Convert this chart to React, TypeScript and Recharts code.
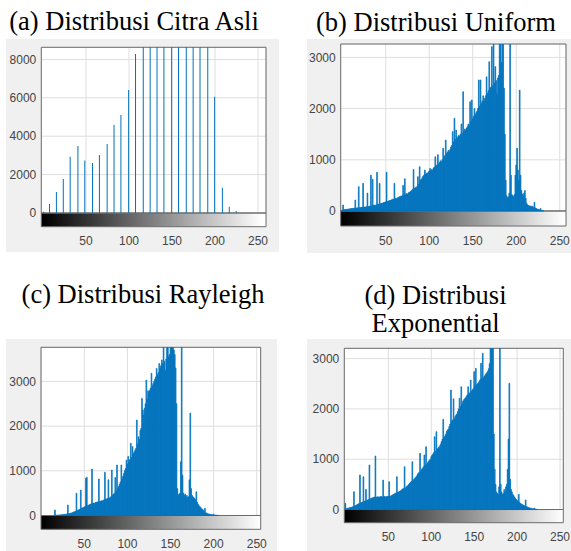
import { BarChart, Bar, XAxis, YAxis, CartesianGrid, ReferenceArea } from "recharts";

// gray levels 0..255 (x positions of the histogram bins)
const GRAY_LEVELS = Array.from({ length: 256 }, (_, i) => i);
const X_TICKS = [50, 100, 150, 200, 250];

// (a) original image: stem positions and counts
const ASLI_LEVELS = [0, 7, 15, 23, 31, 40, 48, 57, 65, 74, 82, 90, 99, 107, 116, 124, 132, 140, 149, 157, 166, 174, 182, 191, 199, 208, 216, 224];
const ASLI_COUNTS = [60, 470, 1090, 1770, 2930, 3490, 2740, 2600, 3020, 3590, 4580, 5100, 6400, 8280, 9500, 10800, 12000, 12800, 13500, 13000, 12200, 11400, 10500, 9600, 6060, 1320, 330, 100];
const Y_TICKS_A = [0, 2000, 4000, 6000, 8000];

// (b) uniform noise
const UNIFORM_COUNTS = [
  20, 117, 25, 28, 30, 32, 35, 38, 40, 42, 45, 48, 50, 52, 55, 215,
  58, 60, 62, 475, 65, 68, 70, 72, 540, 75, 78, 80, 85, 350, 88, 92,
  95, 700, 100, 620, 110, 115, 105, 120, 755, 130, 135, 540, 140, 150, 145, 160,
  165, 170, 180, 757, 185, 195, 200, 210, 205, 220, 230, 225, 540, 245, 250, 240,
  260, 270, 280, 290, 285, 300, 500, 310, 630, 320, 340, 330, 350, 370, 360, 390,
  400, 420, 810, 440, 460, 450, 480, 670, 520, 865, 600, 620, 650, 680, 700, 800,
  720, 740, 730, 760, 780, 830, 790, 810, 800, 840, 860, 1060, 880, 900, 1100, 920,
  950, 980, 960, 1000, 1225, 1050, 1080, 1387, 1120, 1150, 1180, 1160, 1200, 1250, 1280, 1550,
  1350, 1810, 1400, 1580, 1420, 1450, 1480, 1460, 1500, 1700, 1520, 2330, 1560, 1600, 1580, 1620,
  1650, 1700, 1680, 2135, 1750, 2170, 1800, 1850, 2000, 1880, 1920, 1950, 2000, 2560, 2050, 2560,
  2100, 2150, 2250, 2150, 2200, 2250, 2620, 2300, 2350, 2915, 2400, 2420, 3210, 2450, 3600, 2500,
  2820, 2550, 2290, 2600, 2650, 3500, 3800, 2900, 3700, 3400, 2400, 1500, 600, 300, 260, 280,
  350, 3500, 700, 320, 300, 280, 320, 700, 900, 1225, 800, 600, 2360, 700, 400, 330,
  300, 350, 400, 250, 150, 120, 110, 100, 90, 100, 80, 90, 70, 170, 60, 50,
  40, 30, 30, 20, 50, 15, 10, 5, 0, 0, 0, 0, 0, 0, 0, 0,
  0, 0, 0, 0, 0, 0, 0, 0, 0, 0, 0, 0, 0, 0, 0, 0,
];

// (c) rayleigh noise
const RAYLEIGH_COUNTS = [
  0, 0, 0, 0, 0, 0, 0, 0, 0, 0, 0, 0, 0, 0, 0, 0,
  123, 5, 8, 6, 10, 12, 10, 15, 18, 15, 20, 25, 22, 30, 35, 235,
  40, 45, 50, 55, 60, 70, 80, 85, 95, 497, 110, 120, 130, 140, 570, 160,
  170, 180, 190, 200, 832, 855, 220, 230, 240, 250, 260, 1040, 270, 280, 270, 290,
  300, 290, 310, 817, 310, 320, 330, 320, 340, 350, 966, 360, 370, 380, 800, 390,
  400, 420, 1018, 450, 480, 500, 850, 550, 1130, 600, 650, 700, 750, 1130, 820, 880,
  940, 1000, 1050, 1240, 1150, 1320, 1200, 1250, 1615, 1300, 1540, 1380, 1420, 1460, 1500, 2136,
  1600, 1760, 1700, 1900, 1950, 2620, 2360, 2250, 2400, 2500, 3030, 2600, 2790, 2750, 2800, 2850,
  3180, 2900, 2950, 3000, 3050, 3100, 3290, 3150, 3200, 3400, 3300, 3350, 3480, 3400, 4200, 3450,
  3240, 3500, 4100, 4300, 3550, 3600, 4000, 3900, 4200, 3800, 3700, 3600, 3300, 2500, 600, 450,
  480, 500, 1200, 4200, 900, 500, 450, 480, 420, 450, 400, 420, 800, 2290, 600, 450,
  420, 400, 380, 350, 532, 300, 250, 220, 200, 180, 150, 140, 120, 100, 160, 60,
  50, 40, 35, 30, 25, 20, 15, 15, 30, 10, 8, 5, 5, 3, 0, 0,
  0, 0, 0, 0, 0, 0, 0, 0, 0, 0, 0, 0, 0, 0, 0, 0,
  0, 0, 0, 0, 0, 0, 0, 0, 0, 0, 0, 0, 0, 0, 0, 0,
  0, 0, 0, 0, 0, 0, 0, 0, 0, 0, 0, 0, 0, 0, 0, 0,
];

// (d) exponential noise
const EXPONENTIAL_COUNTS = [
  123, 15, 20, 25, 30, 35, 40, 45, 50, 60, 354, 70, 80, 90, 100, 110,
  120, 686, 130, 140, 150, 650, 160, 170, 400, 180, 190, 200, 885, 210, 220, 230,
  235, 240, 250, 1064, 245, 250, 255, 240, 250, 260, 255, 250, 586, 260, 255, 250,
  260, 255, 265, 553, 260, 270, 280, 290, 300, 310, 320, 330, 652, 340, 350, 360,
  370, 380, 400, 410, 420, 851, 430, 450, 470, 480, 500, 520, 540, 560, 950, 580,
  600, 620, 640, 660, 700, 720, 740, 1117, 760, 800, 820, 850, 1084, 880, 1250, 900,
  930, 960, 980, 1000, 1050, 1080, 1100, 1130, 1448, 1160, 1547, 1200, 1220, 1240, 1260, 1300,
  1350, 1400, 1793, 1430, 1460, 1500, 1550, 1580, 1600, 1650, 1700, 2376, 1750, 1780, 2200, 1800,
  1850, 1880, 1900, 1950, 2000, 2210, 2050, 2440, 2100, 2150, 2180, 2200, 2220, 2250, 2280, 2440,
  2300, 2320, 2575, 2350, 2380, 2400, 2740, 2450, 2806, 2480, 2500, 2520, 2550, 2580, 2906, 2600,
  3105, 2620, 2650, 2680, 2700, 2720, 2750, 2800, 2900, 3600, 4000, 3800, 3500, 1500, 800, 500,
  350, 320, 300, 450, 3600, 500, 350, 300, 320, 400, 350, 450, 500, 800, 1400, 2509,
  600, 400, 350, 300, 280, 250, 220, 200, 180, 160, 300, 140, 120, 110, 100, 90,
  80, 70, 190, 60, 50, 40, 35, 30, 25, 20, 15, 12, 30, 10, 8, 5,
  0, 0, 0, 0, 0, 0, 0, 0, 0, 0, 0, 0, 0, 0, 0, 0,
  0, 0, 0, 0, 0, 0, 0, 0, 0, 0, 0, 0, 0, 0, 0, 0,
];
const Y_TICKS_BCD = [0, 1000, 2000, 3000];

type Row = { level: number; count: number };
const toRows = (levels: number[], counts: number[]): Row[] =>
  levels.map((level, i) => ({ level, count: counts[i] }));

const BLUE = "#0072BD";
const FRAME = "#6e6e6e";
const TICK_STYLE = { fontSize: 12, fill: "#444", fontFamily: "'Liberation Sans', Arial, sans-serif" };

type PanelProps = {
  id: string;
  dense?: boolean;
  left: number; top: number; width: number; height: number;
  margin: { top: number; right: number; bottom: number; left: number };
  yAxisWidth: number; xAxisHeight: number;
  xDomain: [number, number]; yDomain: [number, number];
  yTicks: number[];
  data: Row[];
};

function HistPanel(p: PanelProps) {
  const [x0, x1] = p.xDomain;
  const g0 = (0 - x0) / (x1 - x0);
  const g1 = (255 - x0) / (x1 - x0);
  return (
    <div style={{ position: "absolute", left: p.left, top: p.top, width: p.width, height: p.height, background: "#f0f0f0" }}>
      <BarChart width={p.width} height={p.height} data={p.data} margin={p.margin} barSize={1}>
        <defs>
          <linearGradient id={p.id} x1="0" y1="0" x2="1" y2="0">
            <stop offset={g0} stopColor="#000" />
            <stop offset={g1} stopColor="#fff" />
          </linearGradient>
        </defs>
        <CartesianGrid fill="#fff" stroke="#dedede" />
        <XAxis type="number" dataKey="level" domain={p.xDomain} ticks={X_TICKS} allowDataOverflow interval={0}
          axisLine={false} tickLine={false} tickSize={8} tickMargin={2} height={p.xAxisHeight} tick={TICK_STYLE} />
        <YAxis type="number" domain={p.yDomain} ticks={p.yTicks} allowDataOverflow interval={0} width={p.yAxisWidth}
          axisLine={false} tickLine={false} tickSize={3} tickMargin={2} tick={TICK_STYLE} />
        <ReferenceArea x1={x0} x2={x1} y1={p.yDomain[0]} y2={0} fill={`url(#${p.id})`} fillOpacity={1} stroke={FRAME} />
        <ReferenceArea x1={x0} x2={x1} y1={0} y2={p.yDomain[1]} fill="none" stroke={FRAME} />
        {p.dense ? (
          <Bar dataKey="count" fill={BLUE} stroke={BLUE} strokeWidth={0.7} isAnimationActive={false} />
        ) : (
          <Bar dataKey="count" fill={BLUE} isAnimationActive={false} />
        )}
      </BarChart>
    </div>
  );
}

const TITLE_STYLE = {
  position: "absolute" as const, fontFamily: "'Liberation Serif', 'Times New Roman', serif", fontSize: 26.5,
  lineHeight: "27.7px", color: "#000", textAlign: "center" as const, whiteSpace: "nowrap" as const,
};

export default function App() {
  return (
    <div style={{ position: "absolute", left: 0, top: 0, width: 571, height: 551, background: "#fff", overflow: "hidden" }}>
      <div style={{ ...TITLE_STYLE, left: 0, width: 268, top: 8 }}>(a) Distribusi Citra Asli</div>
      <div style={{ ...TITLE_STYLE, left: 300, width: 272, top: 9 }}>(b) Distribusi Uniform</div>
      <div style={{ ...TITLE_STYLE, left: 0, width: 286, top: 281 }}>(c) Distribusi Rayleigh</div>
      <div style={{ ...TITLE_STYLE, left: 300, width: 271, top: 282 }}>(d) Distribusi<br />Exponential</div>

      <HistPanel id="cbA" left={6} top={39} width={273} height={213}
        margin={{ top: 8.3, right: 13, bottom: 0.3, left: 0 }} yAxisWidth={35.3} xAxisHeight={25}
        xDomain={[-2, 259.3]} yDomain={[-713, 8630]} yTicks={Y_TICKS_A}
        data={toRows(ASLI_LEVELS, ASLI_COUNTS)} />
      <HistPanel id="cbB" dense left={307} top={39} width={264} height={214}
        margin={{ top: 5, right: 5, bottom: 0, left: 0 }} yAxisWidth={33.7} xAxisHeight={27}
        xDomain={[-1.8, 257.2]} yDomain={[-293, 3262]} yTicks={Y_TICKS_BCD}
        data={toRows(GRAY_LEVELS, UNIFORM_COUNTS)} />
      <HistPanel id="cbC" dense left={6} top={339} width={271} height={212}
        margin={{ top: 8.3, right: 16.3, bottom: 0, left: 0 }} yAxisWidth={35} xAxisHeight={21.7}
        xDomain={[-0.2, 254.6]} yDomain={[-309, 3763]} yTicks={Y_TICKS_BCD}
        data={toRows(GRAY_LEVELS, RAYLEIGH_COUNTS)} />
      <HistPanel id="cbD" dense left={307} top={339} width={264} height={212}
        margin={{ top: 9.3, right: 7.7, bottom: 0, left: 0 }} yAxisWidth={37.3} xAxisHeight={28.3}
        xDomain={[-1.3, 253.8]} yDomain={[-262, 3205]} yTicks={Y_TICKS_BCD}
        data={toRows(GRAY_LEVELS, EXPONENTIAL_COUNTS)} />
    </div>
  );
}
